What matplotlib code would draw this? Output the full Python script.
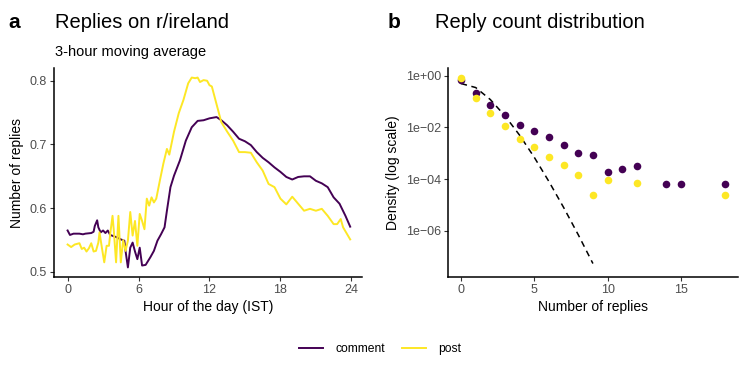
import numpy as np
import matplotlib
matplotlib.use("Agg")
import matplotlib.pyplot as plt
from matplotlib.lines import Line2D

plt.rcParams['font.family'] = ['Liberation Sans', 'DejaVu Sans']

# panel a: 3-hour moving average of replies by hour of day
comment_hour = [0, 0.2, 0.5, 1.0, 1.3, 1.5, 2.0, 2.2, 2.3, 2.5, 2.6, 2.8, 3.0, 3.2, 3.4, 3.6,
                3.9, 4.2, 4.5, 4.8, 4.9, 5.1, 5.3, 5.5, 5.7, 5.9, 6.1, 6.3, 6.6, 6.8, 7.0,
                7.3, 7.6, 7.9, 8.2, 8.4, 8.7, 9.0, 9.5, 10.0, 10.5, 11.0, 11.5, 12.0, 12.3,
                12.6, 13.0, 13.5, 14.0, 14.5, 15.0, 15.5, 16.0, 16.5, 17.0, 17.5, 18.0,
                18.5, 19.0, 19.5, 20.0, 20.5, 21.0, 21.5, 22.0, 22.5, 23.0, 23.5, 23.9]
comment_val = [0.565, 0.558, 0.560, 0.560, 0.559, 0.560, 0.561, 0.563, 0.572, 0.581, 0.570,
               0.562, 0.565, 0.561, 0.565, 0.558, 0.556, 0.554, 0.551, 0.549, 0.533, 0.507,
               0.538, 0.546, 0.532, 0.520, 0.538, 0.510, 0.511, 0.517, 0.523, 0.533, 0.549,
               0.559, 0.570, 0.596, 0.633, 0.651, 0.675, 0.706, 0.727, 0.737, 0.738, 0.741,
               0.742, 0.743, 0.738, 0.730, 0.720, 0.709, 0.705, 0.699, 0.688, 0.679, 0.672,
               0.664, 0.657, 0.649, 0.645, 0.649, 0.650, 0.650, 0.643, 0.639, 0.633, 0.617,
               0.607, 0.588, 0.571]

post_hour = [0, 0.3, 0.6, 1.0, 1.2, 1.4, 1.6, 1.8, 2.0, 2.2, 2.4, 2.6, 2.7, 2.9, 3.1, 3.3,
             3.5, 3.6, 3.8, 3.9, 4.1, 4.3, 4.5, 4.7, 4.9, 5.1, 5.3, 5.5, 5.7, 5.9, 6.1, 6.3,
             6.5, 6.7, 6.9, 7.1, 7.3, 7.5, 7.8, 8.1, 8.4, 8.6, 9.0, 9.4, 9.8, 10.2, 10.5,
             10.8, 11.0, 11.2, 11.5, 11.8, 12.0, 12.2, 12.5, 12.8, 13.0, 13.5, 14.0, 14.5,
             15.0, 15.5, 16.0, 16.5, 17.0, 17.5, 18.0, 18.5, 19.0, 19.5, 20.0, 20.5, 21.0,
             21.5, 22.0, 22.5, 22.8, 23.1, 23.3, 23.9]
post_val = [0.543, 0.539, 0.543, 0.545, 0.536, 0.538, 0.532, 0.537, 0.545, 0.532, 0.533,
            0.546, 0.562, 0.538, 0.515, 0.541, 0.541, 0.559, 0.588, 0.567, 0.515, 0.588,
            0.515, 0.550, 0.533, 0.549, 0.594, 0.557, 0.580, 0.541, 0.591, 0.580, 0.567,
            0.615, 0.604, 0.617, 0.609, 0.615, 0.643, 0.670, 0.693, 0.684, 0.720, 0.749,
            0.770, 0.796, 0.805, 0.804, 0.805, 0.798, 0.801, 0.800, 0.793, 0.791, 0.770,
            0.749, 0.735, 0.720, 0.706, 0.688, 0.688, 0.687, 0.672, 0.659, 0.638, 0.633,
            0.615, 0.606, 0.618, 0.607, 0.596, 0.599, 0.596, 0.599, 0.588, 0.575, 0.575,
            0.583, 0.570, 0.551]

# panel b: reply count distribution
comment_n = [0, 1, 2, 3, 4, 5, 6, 7, 8, 9, 10, 11, 12, 14, 15, 18]
comment_dens = [0.68, 0.22, 0.073, 0.030, 0.013, 0.0072, 0.0044, 0.0021, 0.00107, 0.00087,
                0.000186, 0.000257, 0.000316, 6.4e-5, 6.4e-5, 6.4e-5]
post_n = [0, 1, 2, 3, 4, 5, 6, 7, 8, 9, 10, 12, 18]
post_dens = [0.83, 0.14, 0.035, 0.0115, 0.0037, 0.0017, 0.0007, 0.00037, 0.000147, 2.5e-5,
             9.7e-5, 7.2e-5, 2.5e-5]
ref_n = [0, 1, 2, 3, 4, 5, 6, 7, 8, 9]
ref_dens = [0.50, 0.35, 0.12, 0.028, 0.0050, 0.00070, 8.1e-5, 8.1e-6, 7.1e-7, 5.5e-8]

PURPLE = '#440154'
YELLOW = '#FDE725'
W, H = 747, 374

fig = plt.figure(figsize=(W / 100, H / 100), dpi=100)
ax1 = fig.add_axes([54 / W, 97 / H, 308 / W, 209 / H])
ax2 = fig.add_axes([448 / W, 97 / H, 290 / W, 209 / H])


def classic(ax):
    for s in ['top', 'right']:
        ax.spines[s].set_visible(False)
    for s in ['left', 'bottom']:
        ax.spines[s].set_linewidth(1.1)
    ax.tick_params(length=3, width=0.8, colors='#333333', labelsize=9,
                   labelcolor='#4D4D4D', pad=2)


ax1.plot(comment_hour, comment_val, color=PURPLE, lw=1.4)
ax1.plot(post_hour, post_val, color=YELLOW, lw=1.4)
ax1.set_xlim(-1.15, 24.9)
ax1.set_ylim(0.492, 0.820)
ax1.set_xticks([0, 6, 12, 18, 24])
ax1.set_yticks([0.5, 0.6, 0.7, 0.8])
ax1.set_xlabel('Hour of the day (IST)', fontsize=10, labelpad=3)
ax1.set_ylabel('Number of replies', fontsize=10, labelpad=4)
classic(ax1)

ax2.plot(ref_n, ref_dens, color='black', lw=1.1, ls=(0, (4, 3)), zorder=1)
ax2.scatter(comment_n, comment_dens, s=30, color=PURPLE, zorder=2, linewidths=0)
ax2.scatter(post_n, post_dens, s=30, color=YELLOW, zorder=3, linewidths=0)
ax2.set_yscale('log')
ax2.set_xlim(-0.89, 18.9)
ax2.set_ylim(10 ** -7.78, 10 ** 0.3)
ax2.set_xticks([0, 5, 10, 15])
ax2.set_yticks([1, 1e-2, 1e-4, 1e-6])
ax2.set_yticklabels(['1e+00', '1e\u221202', '1e\u221204', '1e\u221206'])
ax2.minorticks_off()
ax2.set_xlabel('Number of replies', fontsize=10, labelpad=3)
ax2.set_ylabel('Density (log scale)', fontsize=10, labelpad=4)
classic(ax2)

# titles and panel tags
fig.text(8 / W, 1 - 28 / H, 'a', fontsize=15, fontweight='bold')
fig.text(55 / W, 1 - 28 / H, 'Replies on r/ireland', fontsize=14.5)
fig.text(55 / W, 1 - 56 / H, '3-hour moving average', fontsize=10.5)
fig.text(388 / W, 1 - 28 / H, 'b', fontsize=15, fontweight='bold')
fig.text(435 / W, 1 - 28 / H, 'Reply count distribution', fontsize=14.5)

handles = [Line2D([], [], color=PURPLE, lw=1.4), Line2D([], [], color=YELLOW, lw=1.4)]
fig.legend(handles, ['comment', 'post'], loc='center', bbox_to_anchor=(380 / W, 1 - 349 / H),
           ncol=2, frameon=False, fontsize=8.7, handlelength=2.0, columnspacing=1.4,
           handletextpad=1.0)

fig.savefig('out.png', dpi=100)
